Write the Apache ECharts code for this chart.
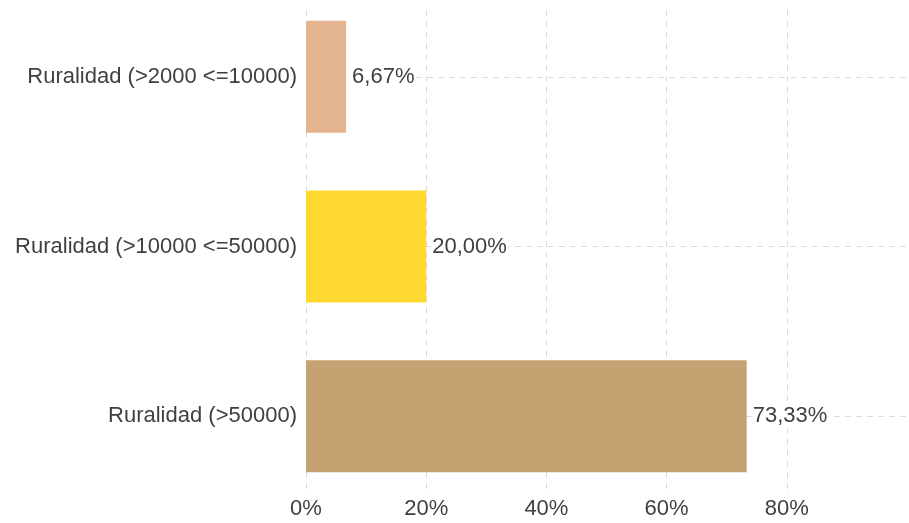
<!DOCTYPE html>
<html>
<head>
<meta charset="utf-8">
<script src="https://cdn.jsdelivr.net/npm/echarts@6/dist/echarts.min.js"></script>
<style>
html,body{margin:0;padding:0;background:#fff;overflow:hidden;}
#chart{position:relative;top:-8px;width:909px;height:531px;}
</style>
</head>
<body>
<div id="chart"></div>
<script>
const categories = ['Ruralidad (>2000 <=10000)', 'Ruralidad (>10000 <=50000)', 'Ruralidad (>50000)'];
const values = [6.67, 20.00, 73.33];
const barColors = ['#E4B491', '#FFD92F', '#C6A171'];
const tickLabels = ['0%', '20%', '40%', '60%', '80%', '100%'];

const FONT = '"Liberation Sans", Arial, sans-serif';
const TXT = '#404040';
const GRIDC = '#dcdcdc';

const chart = echarts.init(document.getElementById('chart'), null, {renderer: 'canvas'});
chart.setOption({
  animation: false,
  backgroundColor: '#fff',
  grid: [
    {left: 306, right: 2, top: 18, bottom: 30, containLabel: false},
    {left: 306, right: 2, top: 0, bottom: 22, containLabel: false}
  ],
  xAxis: [
    {
      gridIndex: 0, type: 'value', min: 0, max: 100, interval: 20,
      axisLine: {show: false}, axisTick: {show: false},
      splitLine: {show: true, lineStyle: {type: [6, 5], color: [GRIDC, GRIDC, GRIDC, GRIDC, GRIDC, 'rgba(0,0,0,0)'], width: 1}},
      axisLabel: {
        show: true, margin: 5, color: TXT, fontSize: 22, fontFamily: FONT,
        showMaxLabel: false,
        formatter: function (v) { return tickLabels[Math.round(v / 20)]; }
      }
    },
    {
      gridIndex: 1, type: 'value', min: 0, max: 100, show: false,
      splitLine: {show: false}
    }
  ],
  yAxis: [
    {gridIndex: 0, type: 'category', data: categories, show: false, inverse: true},
    {
      gridIndex: 1, type: 'category', data: categories, inverse: true,
      axisLine: {show: false}, axisTick: {show: false}, splitLine: {show: false},
      axisLabel: {margin: 9, color: TXT, fontSize: 22, fontFamily: FONT}
    }
  ],
  series: [
    {
      type: 'line', xAxisIndex: 1, yAxisIndex: 1, data: [], z: 0,
      markLine: {
        silent: true, symbol: 'none', z: 0,
        label: {show: false},
        lineStyle: {type: [6, 5], color: GRIDC, width: 1},
        data: categories.map(function (c) { return {yAxis: c}; })
      }
    },
    {
      type: 'bar', xAxisIndex: 1, yAxisIndex: 1, z: 3,
      barWidth: 112,
      data: values.map(function (v, i) { return {value: v, itemStyle: {color: barColors[i]}}; }),
      label: {
        show: true, position: 'right', distance: 5,
        color: TXT, fontSize: 22, fontFamily: FONT,
        backgroundColor: '#fff', padding: [0, 1],
        formatter: function (p) { return p.value.toFixed(2).replace('.', ',') + '%'; }
      }
    }
  ]
});
</script>
</body>
</html>
